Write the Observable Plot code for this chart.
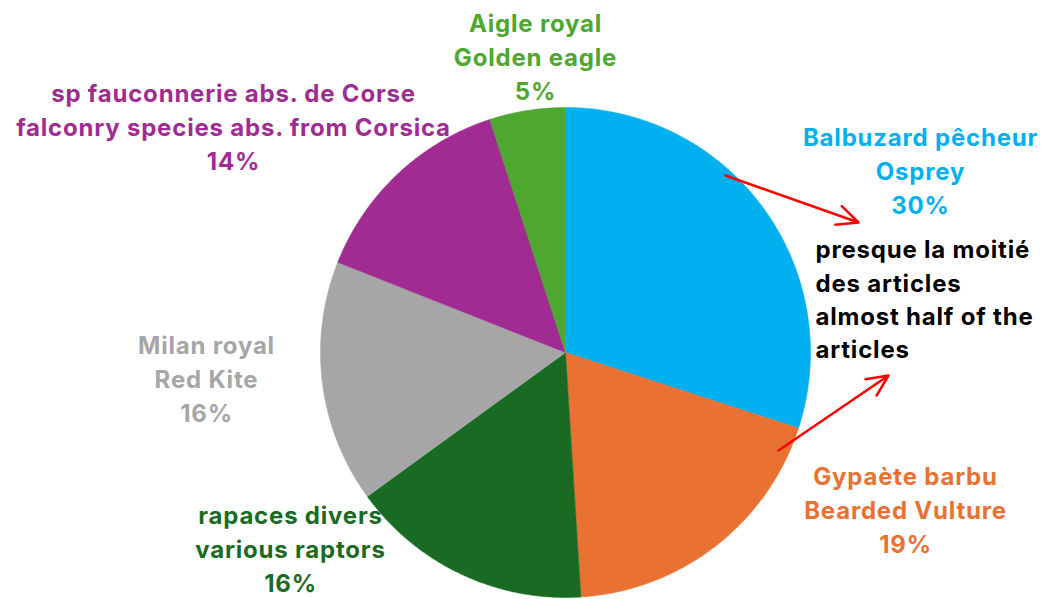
<!DOCTYPE html>
<html>
<head>
<meta charset="utf-8">
<script src="https://cdn.jsdelivr.net/npm/d3@7"></script>
<script src="https://cdn.jsdelivr.net/npm/@observablehq/plot@0.6"></script>
<style>
  html, body { margin: 0; padding: 0; background: #fff; }
  #chart { width: 1045px; height: 599px; }
  #chart svg text { letter-spacing: 0.8px; }
</style>
</head>
<body>
<div id="chart"></div>
<script>
// ---- data ----
const categories = [
  "Balbuzard pêcheur\nOsprey",
  "Gypaète barbu\nBearded Vulture",
  "rapaces divers\nvarious raptors",
  "Milan royal\nRed Kite",
  "sp fauconnerie abs. de Corse\nfalconry species abs. from Corsica",
  "Aigle royal\nGolden eagle"
];
const values = [30, 19, 16, 16, 14, 5];
const colors = ["#00B0F0", "#E97132", "#196B24", "#A6A6A6", "#A02B93", "#4EA72E"];
const note = "presque la moitié\ndes articles\nalmost half of the\narticles";

// ---- layout (pixel units relative to the pie centre, y up) ----
const R = 245;
const labelOffsets = [[355, 183], [340, -156], [-275, -195], [-359, -25], [-332, 227], [-30, 297]];
const noteAt = [250, 55];
const arrows = [
  {x1: 160, y1: 177, x2: 293, y2: 130},
  {x1: 213, y1: -98, x2: 323, y2: -23}
];

// ---- geometry from values ----
const total = d3.sum(values);
const slices = [];
let cum = 0;
values.forEach((v, i) => {
  const a0 = cum / total * 2 * Math.PI;
  cum += v;
  const a1 = cum / total * 2 * Math.PI;
  const pts = [{name: categories[i], x: 0, y: 0}];
  const n = Math.max(2, Math.ceil((a1 - a0) / (Math.PI / 360)));
  for (let k = 0; k <= n; k++) {
    const a = a0 + (a1 - a0) * k / n;
    pts.push({name: categories[i], x: R * Math.sin(a), y: R * Math.cos(a)});
  }
  pts.push({name: categories[i], x: 0, y: 0});
  slices.push(...pts);
});

const labels = categories.map((c, i) => ({
  text: c + "\n" + values[i] + "%",
  x: labelOffsets[i][0],
  y: labelOffsets[i][1],
  color: colors[i]
}));

const font = "Inter, 'Open Sans', sans-serif";

const chart = Plot.plot({
  width: 1045,
  height: 599,
  margin: 0,
  x: {domain: [-565, 480], range: [0, 1045], axis: null},
  y: {domain: [-247, 352], range: [599, 0], axis: null},
  color: {domain: categories, range: colors},
  style: {background: "#fff", fontFamily: font},
  marks: [
    Plot.line(slices, {x: "x", y: "y", z: "name", fill: "name", stroke: "name", strokeWidth: 0.5, curve: "linear"}),
    Plot.text(labels, {x: "x", y: "y", text: "text", fill: "color", fontSize: 24, fontWeight: "bold", lineHeight: 1.42, textAnchor: "middle", fontFamily: font}),
    Plot.text([note], {x: () => noteAt[0], y: () => noteAt[1], text: d => d, fill: "#000", fontSize: 24, fontWeight: "bold", lineHeight: 1.38, textAnchor: "start", fontFamily: font}),
    Plot.arrow(arrows, {x1: "x1", y1: "y1", x2: "x2", y2: "y2", stroke: "#FF0000", strokeWidth: 2.5, headLength: 14, headAngle: 50})
  ]
});
document.getElementById("chart").appendChild(chart);
</script>
</body>
</html>
